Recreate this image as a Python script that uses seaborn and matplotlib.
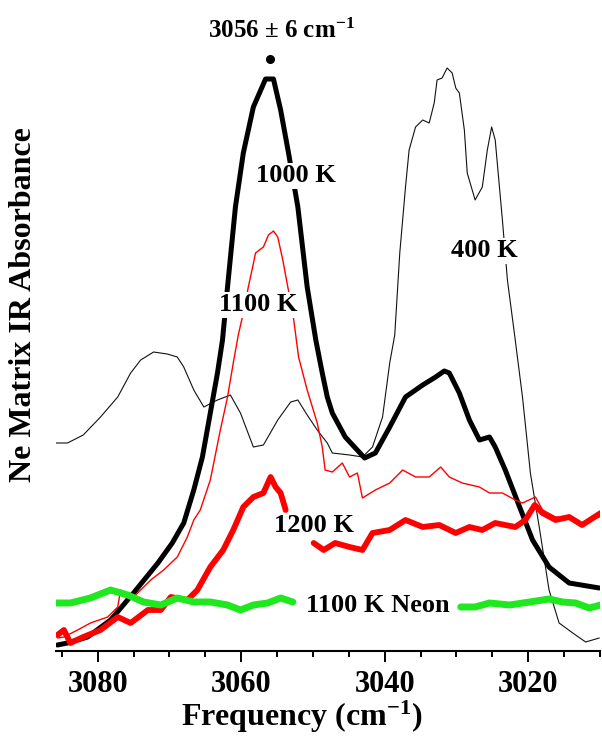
import numpy as np
import pandas as pd
import matplotlib
matplotlib.use("Agg")
import matplotlib.pyplot as plt
import seaborn as sns

# 400 K (thin black)
freq_400 = [3085.9, 3084.2, 3082.0, 3079.6, 3077.2, 3075.4, 3074.0, 3072.2, 3070.3, 3068.9,
            3068.0, 3066.6, 3065.2, 3063.3, 3061.5, 3060.1, 3058.3, 3056.9, 3054.9, 3053.1,
            3052.1, 3050.8, 3049.4, 3048.0, 3047.3, 3044.9, 3043.1, 3041.7, 3040.3, 3039.3,
            3038.6, 3037.9, 3037.1, 3036.6, 3035.7, 3034.7, 3033.8, 3033.1, 3032.7, 3032.0,
            3031.3, 3030.6, 3030.1, 3029.6, 3028.9, 3028.5, 3027.4, 3026.4, 3025.7, 3025.1,
            3024.6, 3023.6, 3022.9, 3021.9, 3020.8, 3019.7, 3018.4, 3017.1, 3015.7, 3013.8,
            3012.0, 3010.1]
abs_400 = [2.08, 2.08, 2.16, 2.34, 2.54, 2.78, 2.91, 2.99, 2.97, 2.94,
           2.84, 2.61, 2.44, 2.51, 2.56, 2.38, 2.04, 2.06, 2.31, 2.49,
           2.51, 2.36, 2.21, 2.08, 1.98, 1.96, 1.94, 2.04, 2.34, 2.88,
           3.16, 3.98, 4.64, 5.01, 5.24, 5.31, 5.28, 5.48, 5.71, 5.73,
           5.83, 5.78, 5.63, 5.58, 5.21, 4.78, 4.51, 4.64, 5.01, 5.24,
           5.11, 4.31, 3.71, 3.16, 2.54, 1.78, 1.21, 0.61, 0.28, 0.18,
           0.09, 0.13]

# 1000 K (thick black)
freq_1000 = [3085.6, 3084.2, 3081.4, 3078.2, 3075.0, 3071.6, 3069.6, 3068.0, 3066.6, 3065.4,
             3064.3, 3063.3, 3062.6, 3061.9, 3060.8, 3059.7, 3058.3, 3056.6, 3055.5, 3054.5,
             3053.4, 3052.1, 3050.8, 3049.6, 3048.7, 3048.0, 3047.3, 3045.5, 3042.8, 3041.3,
             3039.3, 3037.1, 3034.7, 3032.9, 3031.7, 3031.0, 3029.6, 3028.2, 3026.8, 3025.4,
             3024.6, 3023.2, 3021.2, 3019.4, 3017.1, 3014.3, 3010.1]
abs_1000 = [0.06, 0.08, 0.14, 0.31, 0.58, 0.88, 1.08, 1.28, 1.61, 1.94,
            2.38, 2.78, 3.11, 3.64, 4.44, 4.98, 5.44, 5.72, 5.72, 5.41,
            4.98, 4.44, 3.64, 3.11, 2.78, 2.54, 2.38, 2.14, 1.93, 1.98,
            2.24, 2.54, 2.66, 2.74, 2.80, 2.78, 2.58, 2.31, 2.11, 2.14,
            2.04, 1.81, 1.44, 1.11, 0.84, 0.68, 0.63]

# 1100 K (thin red)
freq_1100 = [3085.6, 3084.7, 3082.8, 3081.0, 3078.6, 3077.2, 3076.8, 3075.0, 3072.6, 3070.8,
             3068.9, 3067.5, 3066.6, 3065.7, 3064.3, 3062.9, 3061.9, 3061.1, 3060.4, 3059.7,
             3059.0, 3058.4, 3058.0, 3056.9, 3056.2, 3055.5, 3054.9, 3054.2, 3053.5, 3052.8,
             3052.4, 3052.0, 3050.8, 3049.4, 3048.7, 3048.3, 3047.3, 3045.9, 3044.9, 3043.8,
             3043.1, 3041.3, 3039.3, 3037.5, 3035.7, 3033.8, 3032.2, 3031.0, 3029.2, 3026.8,
             3025.4, 3023.6, 3021.8, 3020.8, 3019.0, 3018.0, 3016.2, 3014.3, 3012.5, 3010.1]
abs_1100 = [0.13, 0.14, 0.21, 0.28, 0.34, 0.44, 0.61, 0.54, 0.71, 0.81,
            0.94, 1.14, 1.31, 1.41, 1.71, 2.21, 2.54, 2.88, 3.16, 3.38,
            3.64, 3.84, 3.98, 4.04, 4.16, 4.20, 4.14, 3.91, 3.64, 3.38,
            3.16, 2.94, 2.61, 2.28, 2.04, 1.81, 1.79, 1.88, 1.74, 1.78,
            1.53, 1.61, 1.68, 1.81, 1.74, 1.74, 1.84, 1.74, 1.68, 1.64,
            1.58, 1.58, 1.51, 1.48, 1.54, 1.41, 1.34, 1.34, 1.28, 1.34]

# 1200 K (thick red), two pieces either side of its label
freq_1200_a = [3085.6, 3084.7, 3083.8, 3082.0, 3079.6, 3077.2, 3075.4, 3073.0, 3071.2, 3069.8,
               3067.5, 3066.1, 3064.3, 3062.5, 3061.1, 3059.7, 3058.3, 3056.9, 3055.9, 3055.2,
               3054.5, 3053.8]
abs_1200_a = [0.16, 0.21, 0.08, 0.14, 0.21, 0.34, 0.28, 0.41, 0.41, 0.54,
              0.51, 0.61, 0.84, 1.01, 1.21, 1.44, 1.54, 1.58, 1.74, 1.64,
              1.58, 1.41]
freq_1200_b = [3049.9, 3048.5, 3046.9, 3044.9, 3043.1, 3041.7, 3039.3, 3037.1,
               3034.7, 3032.4, 3030.1, 3028.2, 3026.4, 3024.6, 3021.8, 3020.4, 3019.1, 3018.0,
               3016.2, 3014.3, 3012.5, 3009.9]
abs_1200_b = [1.08, 1.01, 1.08, 1.04, 1.01, 1.18, 1.21, 1.31,
              1.24, 1.26, 1.18, 1.24, 1.21, 1.28, 1.24, 1.31, 1.46, 1.38,
              1.31, 1.34, 1.26, 1.38]

# 1100 K Neon (thick green), two pieces either side of its label
freq_neon_a = [3085.9, 3083.8, 3081.0, 3078.2, 3075.8, 3073.6, 3071.2, 3068.9, 3066.6, 3064.3,
               3061.9, 3060.1, 3058.3, 3056.3, 3054.5, 3052.8]
abs_neon_a = [0.48, 0.48, 0.53, 0.61, 0.56, 0.49, 0.46, 0.53, 0.49, 0.49,
              0.46, 0.41, 0.46, 0.48, 0.53, 0.49]
freq_neon_b = [3029.4, 3027.4, 3025.4, 3022.6, 3019.8, 3017.1, 3015.2, 3013.4, 3011.5, 3009.9]
abs_neon_b = [0.44, 0.44, 0.48, 0.46, 0.49, 0.52, 0.49, 0.48, 0.43, 0.46]

peak_freq = 3056
peak_abs = 5.92

black = "black"
red = "#ff0000"
green = "#1fe81f"

series = [
    (freq_400, abs_400, "#111111", 0.8),
    (freq_1000, abs_1000, black, 3.6),
    (freq_1100, abs_1100, red, 1.0),
    (freq_1200_a, abs_1200_a, red, 4.2),
    (freq_1200_b, abs_1200_b, red, 4.2),
    (freq_neon_a, abs_neon_a, green, 5.0),
    (freq_neon_b, abs_neon_b, green, 5.0),
]

# label positions (frequency, absorbance)
labels = {
    "400 K": (3026.1, 4.00),
    "1000 K": (3052.4, 4.75),
    "1100 K": (3057.6, 3.46),
    "1200 K": (3049.8, 1.25),
    "1100 K Neon": (3041.0, 0.46),
}

sns.set_theme(style="ticks")
plt.rcParams["font.family"] = ["Liberation Serif", "DejaVu Serif"]
plt.rcParams["font.weight"] = "bold"
plt.rcParams["mathtext.default"] = "regular"
plt.rcParams["text.color"] = "black"
plt.rcParams["axes.labelcolor"] = "black"
plt.rcParams["xtick.color"] = "black"
plt.rcParams["axes.edgecolor"] = "black"

fig = plt.figure(figsize=(6.02, 7.46), dpi=100)
ax = fig.add_axes([56 / 602, 95 / 746, 544 / 602, 631 / 746])

for f, a, col, lw in series:
    df = pd.DataFrame({"freq": f, "abs": a})
    sns.lineplot(data=df, x="freq", y="abs", ax=ax, color=col, lw=lw,
                 estimator=None, sort=False, zorder=2)

ax.plot([peak_freq], [peak_abs], "o", color="black", ms=5.5, zorder=3)
ax.text(peak_freq - 1.6, 6.08, "3056 ± 6 cm$^{-1}$", ha="center", va="bottom",
        fontsize=18, fontweight="bold")

for name, (fx, fy) in labels.items():
    ax.text(fx, fy, name, ha="center", va="center", fontsize=19, fontweight="bold",
            zorder=10, bbox=dict(facecolor="white", edgecolor="none", pad=1.0))

ax.set_xlim(3085.8, 3010)
ax.set_ylim(0, 6.31)
ax.set_xticks([3080, 3060, 3040, 3020])
ax.set_xticks(np.arange(3085, 3009, -5), minor=True)
ax.set_yticks([])
ax.tick_params(axis="x", which="major", direction="out", length=8, width=1.4,
               labelsize=22, pad=6, colors="black")
ax.tick_params(axis="x", which="minor", direction="out", length=4.5, width=1.4,
               colors="black")
for lab in ax.get_xticklabels():
    lab.set_fontweight("bold")
for side in ["top", "right", "left"]:
    ax.spines[side].set_visible(False)
ax.spines["bottom"].set_linewidth(1.5)
ax.set_facecolor("white")

ax.set_xlabel("Frequency (cm$^{-1}$)", fontsize=23, fontweight="bold")
ax.xaxis.set_label_coords((302 - 56) / 544, -0.075)
ax.set_ylabel("")
fig.text(24 / 602, 1 - 305 / 746, "Ne Matrix IR Absorbance", rotation=90,
         ha="center", va="center", fontsize=23, fontweight="bold")

fig.savefig("out.png", dpi=100, facecolor="white")
